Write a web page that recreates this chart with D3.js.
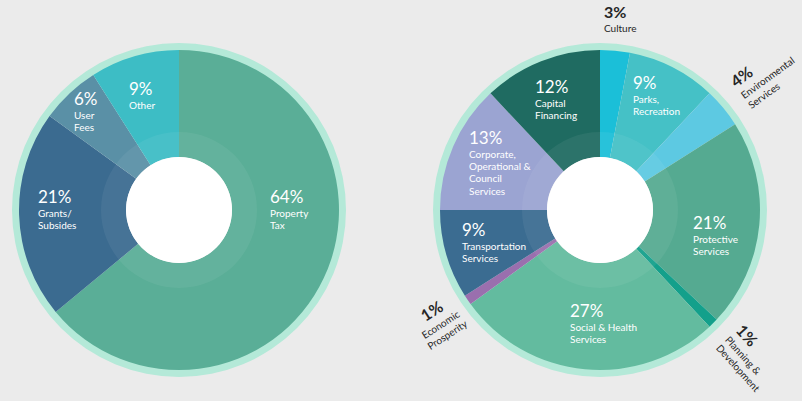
<!DOCTYPE html>
<html>
<head>
<meta charset="utf-8">
<script src="https://cdn.jsdelivr.net/npm/d3@7"></script>
<style>
  body { margin: 0; background: #ebebeb; }
  svg { display: block; font-family: Lato, 'Open Sans', sans-serif; }
</style>
</head>
<body>
<div id="chart"></div>
<script>
// revenue (left donut)
const revenueCategories = ['Property Tax', 'Grants/Subsides', 'User Fees', 'Other'];
const revenueValues = [64, 21, 6, 9];
const revenueLines = [['Property', 'Tax'], ['Grants/', 'Subsides'], ['User', 'Fees'], ['Other']];

// spending (right donut)
const spendingCategories = ['Culture', 'Parks, Recreation', 'Environmental Services',
  'Protective Services', 'Planning & Development', 'Social & Health Services',
  'Economic Prosperity', 'Transportation Services',
  'Corporate, Operational & Council Services', 'Capital Financing'];
const spendingValues = [3, 9, 4, 21, 1, 27, 1, 9, 13, 12];
const spendingLines = [['Culture'], ['Parks,', 'Recreation'], ['Environmental', 'Services'],
  ['Protective', 'Services'], ['Planning &', 'Development'], ['Social & Health', 'Services'],
  ['Economic', 'Prosperity'], ['Transportation', 'Services'],
  ['Corporate,', 'Operational &', 'Council', 'Services'], ['Capital', 'Financing']];

// styles
const revenueColors = ['#5aae97', '#3b6b90', '#5a90a6', '#3dbdc5'];
const spendingColors = ['#1bbfd8', '#45c1c6', '#5dc9e2', '#55aa91', '#13a08b',
  '#63bb9f', '#9a6fae', '#3b6c91', '#9ba4d2', '#1f6b61'];

// label layout: [dx, dy, anchor, rotate, dark] relative to donut centre
const revenueLabelPos = [[91, -7, 'start', 0, false], [-141, -7, 'start', 0, false],
  [-105, -105, 'start', 0, false], [-50, -115, 'start', 0, false]];
const spendingLabelPos = [[4, -192, 'start', 0, true], [33, -121, 'start', 0, false],
  [136, -122, 'start', -36, true], [93, 19, 'start', 0, false],
  [135, 121, 'start', 48, true], [-30, 107, 'start', 0, false],
  [-165, 106, 'middle', -33, true], [-138, 26, 'start', 0, false],
  [-131, -66, 'start', 0, false], [-65, -117, 'start', 0, false]];

const width = 802;
const height = 401;
const rInner = 53;
const rOuter = 160;

const svg = d3.select('#chart')
    .append('svg')
    .attr('width', width)
    .attr('height', height);

const drawDonut = (cx, cy, values, colors, lines, labelPos) => {
  const g = svg.append('g').attr('transform', 'translate(' + cx + ',' + cy + ')');
  const pie = d3.pie().sort(null).value((d) => d);
  const arcs = pie(values);
  const arc = d3.arc().innerRadius(rInner).outerRadius(rOuter);

  // mint outer ring
  g.append('path')
      .attr('d', d3.arc()({innerRadius: rOuter - 1, outerRadius: rOuter + 7,
        startAngle: 0, endAngle: 2 * Math.PI}))
      .attr('fill', '#b4e9d8');

  g.selectAll('path.slice')
      .data(arcs)
      .join('path')
      .attr('class', 'slice')
      .attr('d', arc)
      .attr('fill', (d, i) => colors[i]);

  // soft lighter band round the hole
  g.append('path')
      .attr('d', d3.arc()({innerRadius: rInner, outerRadius: 78,
        startAngle: 0, endAngle: 2 * Math.PI}))
      .attr('fill', '#ffffff')
      .attr('opacity', 0.06);

  g.append('circle').attr('r', rInner).attr('fill', '#ffffff');

  // labels
  arcs.forEach((d, i) => {
    const p = labelPos[i];
    const t = g.append('g')
        .attr('transform', 'translate(' + p[0] + ',' + p[1] + ') rotate(' + p[3] + ')');
    const fill = p[4] ? '#262626' : '#ffffff';
    t.append('text')
        .attr('text-anchor', p[2])
        .attr('font-size', p[4] ? 16 : 17)
        .attr('font-weight', p[4] ? 700 : 400)
        .attr('fill', fill)
        .text(d.data + '%');
    lines[i].forEach((line, j) => {
      t.append('text')
          .attr('text-anchor', p[2])
          .attr('y', 14 + j * 12.2)
          .attr('font-size', 10)
          .attr('fill', fill)
          .text(line);
    });
  });
};

drawDonut(179, 210, revenueValues, revenueColors, revenueLines, revenueLabelPos);
drawDonut(600, 210, spendingValues, spendingColors, spendingLines, spendingLabelPos);
</script>
</body>
</html>
